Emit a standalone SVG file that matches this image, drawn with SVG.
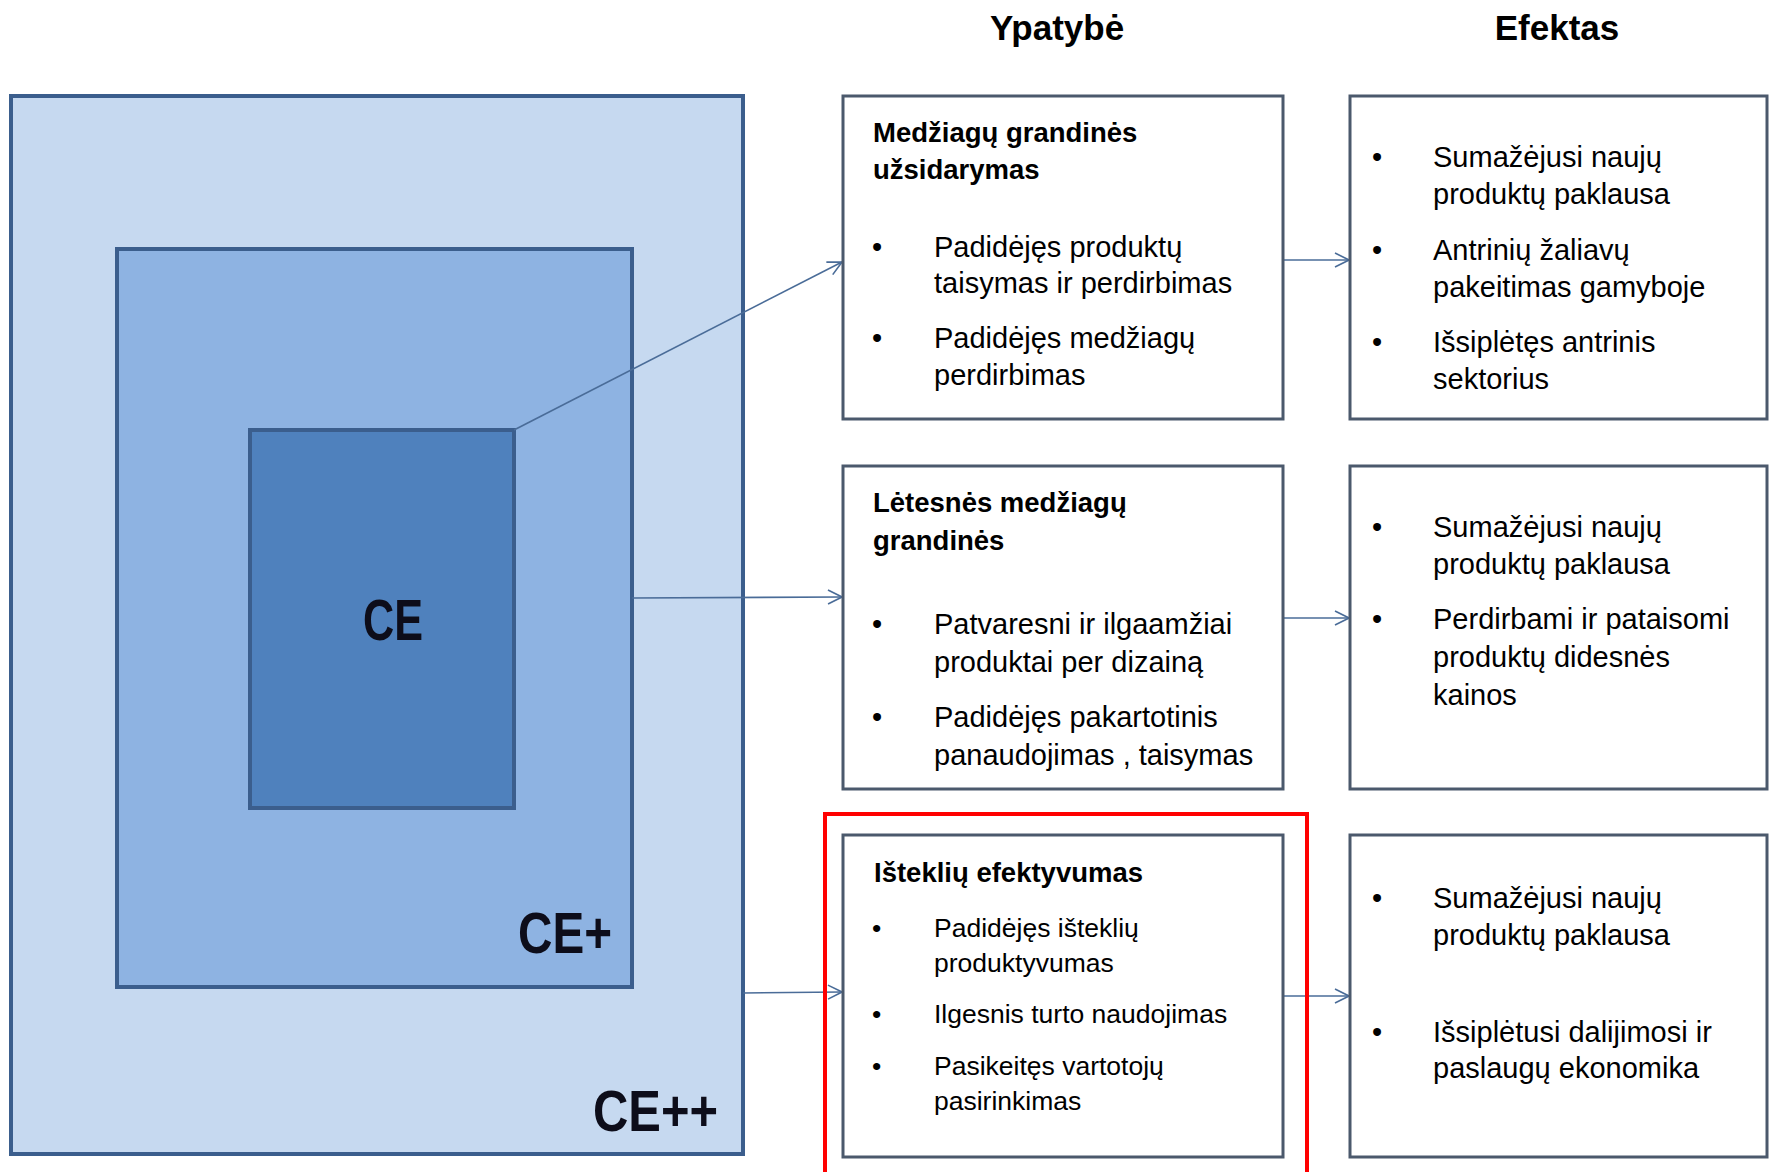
<svg xmlns="http://www.w3.org/2000/svg" width="1771" height="1172" viewBox="0 0 1771 1172">
<defs>
<style>
.bl{stroke:#3b5e8d;stroke-width:4}
.box{fill:#ffffff;stroke:#4b596c;stroke-width:3}
.big{font-family:"Liberation Sans",Arial,sans-serif;font-weight:bold;font-size:58px;fill:#0d0d1a}
.hd{font-family:"Liberation Sans",Arial,sans-serif;font-weight:bold;font-size:35px;fill:#000;text-anchor:middle}
.ti{font-family:"Liberation Sans",Arial,sans-serif;font-weight:bold;font-size:27.5px;fill:#000}
.tx{font-family:"Liberation Sans",Arial,sans-serif;font-size:29px;fill:#000}
.sm{font-size:26.5px}
.con{stroke:#4a6c98;stroke-width:1.6;fill:none}
</style>
<marker id="ah" viewBox="0 0 16 16" refX="15" refY="8" markerWidth="16" markerHeight="16" markerUnits="userSpaceOnUse" orient="auto">
<path d="M1,1 L15,8 L1,15" fill="none" stroke="#4a6c98" stroke-width="1.6"/>
</marker>
</defs>
<rect width="1771" height="1172" fill="#ffffff"/>

<text class="hd" x="1057" y="40">Ypatybė</text>
<text class="hd" x="1557" y="40">Efektas</text>

<g id="ce-plus-plus">
<rect class="bl" x="11" y="96" width="732" height="1058" fill="#c6d9f0"/>
<text class="big" x="593" y="1131" textLength="125" lengthAdjust="spacingAndGlyphs">CE++</text>
</g>
<g id="ce-plus">
<rect class="bl" x="117" y="249" width="515" height="738" fill="#8eb3e2"/>
<text class="big" x="518" y="953" textLength="94" lengthAdjust="spacingAndGlyphs">CE+</text>
</g>
<g id="ce">
<rect class="bl" x="250" y="430" width="264" height="378" fill="#4f81bd"/>
<text class="big" x="363" y="640" textLength="60" lengthAdjust="spacingAndGlyphs">CE</text>
</g>

<g id="connectors">
<line class="con" x1="514" y1="430" x2="842" y2="262" marker-end="url(#ah)"/>
<line class="con" x1="632" y1="598" x2="842" y2="597" marker-end="url(#ah)"/>
<line class="con" x1="743" y1="993" x2="842" y2="992" marker-end="url(#ah)"/>
<line class="con" x1="1283" y1="260" x2="1349" y2="260" marker-end="url(#ah)"/>
<line class="con" x1="1283" y1="618" x2="1349" y2="618" marker-end="url(#ah)"/>
<line class="con" x1="1283" y1="996" x2="1349" y2="996" marker-end="url(#ah)"/>
</g>

<g id="ypatybe-1">
<rect class="box" x="843" y="96" width="440" height="323"/>
<text class="ti" x="873" y="142">Medžiagų grandinės</text>
<text class="ti" x="873" y="179">užsidarymas</text>
<text class="tx" x="872" y="257">•</text>
<text class="tx" x="934" y="257">Padidėjęs produktų</text>
<text class="tx" x="934" y="293">taisymas ir perdirbimas</text>
<text class="tx" x="872" y="348">•</text>
<text class="tx" x="934" y="348">Padidėjęs medžiagų</text>
<text class="tx" x="934" y="385">perdirbimas</text>
</g>

<g id="ypatybe-2">
<rect class="box" x="843" y="466" width="440" height="323"/>
<text class="ti" x="873" y="512">Lėtesnės medžiagų</text>
<text class="ti" x="873" y="550">grandinės</text>
<text class="tx" x="872" y="634">•</text>
<text class="tx" x="934" y="634">Patvaresni ir ilgaamžiai</text>
<text class="tx" x="934" y="672">produktai per dizainą</text>
<text class="tx" x="872" y="727">•</text>
<text class="tx" x="934" y="727">Padidėjęs pakartotinis</text>
<text class="tx" x="934" y="765">panaudojimas , taisymas</text>
</g>

<g id="ypatybe-3">
<rect class="box" x="843" y="835" width="440" height="322"/>
<text class="ti" x="874" y="882">Išteklių efektyvumas</text>
<text class="tx sm" x="872" y="937">•</text>
<text class="tx sm" x="934" y="937">Padidėjęs išteklių</text>
<text class="tx sm" x="934" y="972">produktyvumas</text>
<text class="tx sm" x="872" y="1023">•</text>
<text class="tx sm" x="934" y="1023">Ilgesnis turto naudojimas</text>
<text class="tx sm" x="872" y="1075">•</text>
<text class="tx sm" x="934" y="1075">Pasikeitęs vartotojų</text>
<text class="tx sm" x="934" y="1110">pasirinkimas</text>
</g>

<g id="highlight">
<rect x="825" y="814" width="482" height="400" fill="none" stroke="#ff0000" stroke-width="4"/>
</g>

<g id="efektas-1">
<rect class="box" x="1350" y="96" width="417" height="323"/>
<text class="tx" x="1372" y="167">•</text>
<text class="tx" x="1433" y="167">Sumažėjusi naujų</text>
<text class="tx" x="1433" y="204">produktų paklausa</text>
<text class="tx" x="1372" y="260">•</text>
<text class="tx" x="1433" y="260">Antrinių žaliavų</text>
<text class="tx" x="1433" y="297">pakeitimas gamyboje</text>
<text class="tx" x="1372" y="352">•</text>
<text class="tx" x="1433" y="352">Išsiplėtęs antrinis</text>
<text class="tx" x="1433" y="389">sektorius</text>
</g>

<g id="efektas-2">
<rect class="box" x="1350" y="466" width="417" height="323"/>
<text class="tx" x="1372" y="537">•</text>
<text class="tx" x="1433" y="537">Sumažėjusi naujų</text>
<text class="tx" x="1433" y="574">produktų paklausa</text>
<text class="tx" x="1372" y="629">•</text>
<text class="tx" x="1433" y="629">Perdirbami ir pataisomi</text>
<text class="tx" x="1433" y="667">produktų didesnės</text>
<text class="tx" x="1433" y="705">kainos</text>
</g>

<g id="efektas-3">
<rect class="box" x="1350" y="835" width="417" height="322"/>
<text class="tx" x="1372" y="908">•</text>
<text class="tx" x="1433" y="908">Sumažėjusi naujų</text>
<text class="tx" x="1433" y="945">produktų paklausa</text>
<text class="tx" x="1372" y="1042">•</text>
<text class="tx" x="1433" y="1042">Išsiplėtusi dalijimosi ir</text>
<text class="tx" x="1433" y="1078">paslaugų ekonomika</text>
</g>
</svg>
